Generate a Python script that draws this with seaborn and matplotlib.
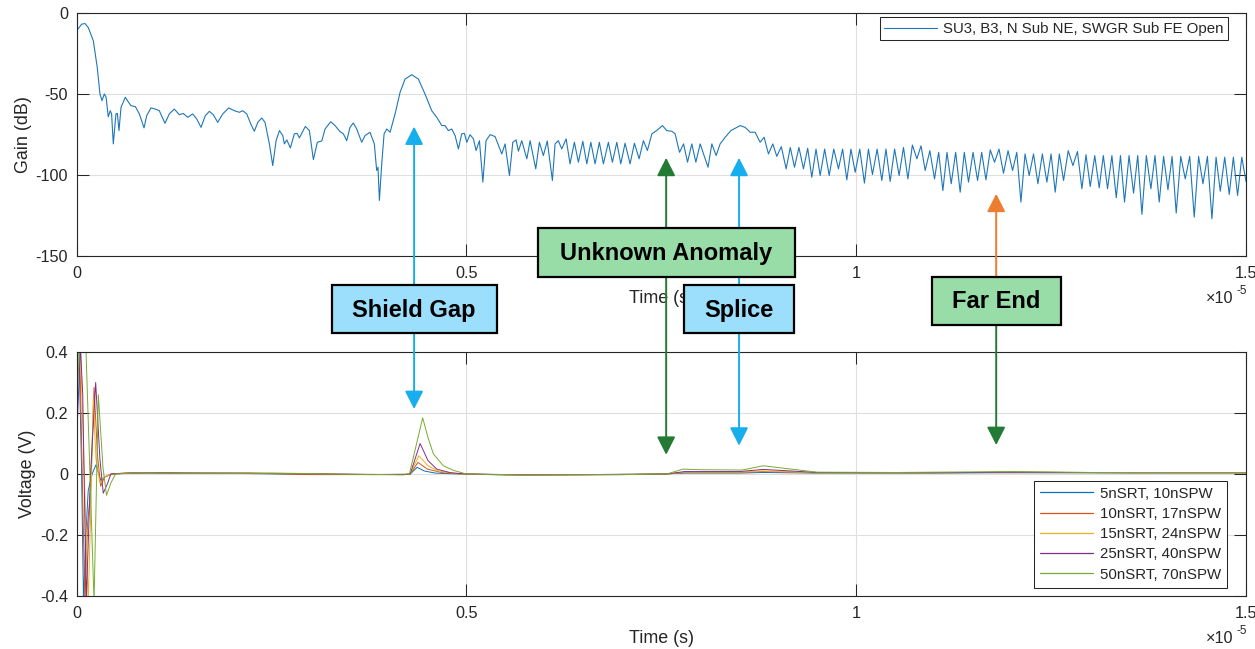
import matplotlib
matplotlib.use("Agg")
import matplotlib.pyplot as plt
from matplotlib.patches import Rectangle, ArrowStyle
from matplotlib.ticker import FuncFormatter
import pandas as pd
import seaborn as sns

# ---------------------------------------------------------------- data
# Time axis values are in units of 1e-5 s.
gain_label = "SU3, B3, N Sub NE, SWGR Sub FE Open"
gain_time = [
    0.000, 0.0067, 0.0109, 0.0151, 0.0216, 0.0266, 0.0301, 0.0327, 0.0357, 0.0380,
    0.0407, 0.0433, 0.0450, 0.0472, 0.0506, 0.0524, 0.0545, 0.0571, 0.0626, 0.0669,
    0.0699, 0.0755, 0.0806, 0.0866, 0.0900, 0.0955, 0.1010, 0.1062, 0.1135, 0.1190,
    0.1255, 0.1319, 0.1370, 0.1426, 0.1490, 0.1542, 0.1597, 0.1652, 0.1704, 0.1755,
    0.1811, 0.1876, 0.1952, 0.2024, 0.2089, 0.2132, 0.2183, 0.2239, 0.2281, 0.2325,
    0.2376, 0.2418, 0.2474, 0.2517, 0.2560, 0.2603, 0.2646, 0.2666, 0.2697, 0.2743,
    0.2794, 0.2829, 0.2859, 0.2935, 0.2987, 0.3038, 0.3089, 0.3146, 0.3188, 0.3261,
    0.3316, 0.3380, 0.3423, 0.3466, 0.3508, 0.3550, 0.3594, 0.3658, 0.3700, 0.3764,
    0.3820, 0.3850, 0.3867, 0.3885, 0.3915, 0.3945, 0.3980, 0.4022, 0.4086, 0.4150,
    0.4214, 0.4300, 0.4385, 0.4470, 0.4556, 0.4621, 0.4685, 0.4727, 0.4770, 0.4813,
    0.4856, 0.4898, 0.4941, 0.4975, 0.5006, 0.5048, 0.5091, 0.5125, 0.5168, 0.5212,
    0.5253, 0.5305, 0.5369, 0.5455, 0.5497, 0.5553, 0.5596, 0.5638, 0.5668, 0.5711,
    0.5776, 0.5818, 0.5890, 0.5937, 0.5988, 0.6038, 0.6104, 0.6138, 0.6180, 0.6224,
    0.6280, 0.6330, 0.6386, 0.6437, 0.6494, 0.6545, 0.6597, 0.6651, 0.6706, 0.6758,
    0.6822, 0.6873, 0.6930, 0.6981, 0.7036, 0.7100, 0.7156, 0.7216, 0.7271, 0.7322,
    0.7380, 0.7440, 0.7516, 0.7570, 0.7636, 0.7678, 0.7734, 0.7786, 0.7837, 0.7892,
    0.7944, 0.7999, 0.8100, 0.8149, 0.8204, 0.8255, 0.8320, 0.8393, 0.8512, 0.8576,
    0.8640, 0.8704, 0.8768, 0.8819, 0.8875, 0.8931, 0.8982, 0.9040, 0.9102, 0.9155,
    0.9209, 0.9266, 0.9324, 0.9378, 0.9431, 0.9485, 0.9538, 0.9596, 0.9654, 0.9713,
    0.9773, 0.9826, 0.9880, 0.9933, 0.9987, 1.0046, 1.0106, 1.0157, 1.0209, 1.0269,
    1.0329, 1.0382, 1.0436, 1.0493, 1.0551, 1.0607, 1.0663, 1.0721, 1.0779, 1.0832,
    1.0885, 1.0945, 1.1005, 1.1058, 1.1112, 1.1165, 1.1219, 1.1276, 1.1334, 1.1387,
    1.1441, 1.1499, 1.1557, 1.1610, 1.1664, 1.1720, 1.1775, 1.1832, 1.1890, 1.1948,
    1.2006, 1.2060, 1.2113, 1.2166, 1.2219, 1.2275, 1.2331, 1.2388, 1.2446, 1.2500,
    1.2553, 1.2606, 1.2660, 1.2720, 1.2780, 1.2838, 1.2895, 1.2948, 1.3002, 1.3060,
    1.3117, 1.3170, 1.3224, 1.3280, 1.3336, 1.3390, 1.3442, 1.3500, 1.3558, 1.3611,
    1.3665, 1.3722, 1.3780, 1.3833, 1.3887, 1.3943, 1.3999, 1.4052, 1.4105, 1.4163,
    1.4221, 1.4278, 1.4336, 1.4392, 1.4448, 1.4505, 1.4563, 1.4616, 1.4670, 1.4727,
    1.4785, 1.4838, 1.4892, 1.4946, 1.5000,
]
gain_db = [
    -11.0, -6.9, -6.5, -9.0, -17.2, -33.6, -50.0, -54.1, -50.0, -52.0,
    -64.0, -60.3, -62.3, -80.8, -62.3, -62.0, -72.6, -58.2, -52.0, -55.2,
    -57.2, -57.8, -62.3, -70.9, -63.4, -58.6, -59.3, -60.3, -68.1, -62.3,
    -59.3, -62.8, -62.0, -64.4, -62.3, -65.4, -70.6, -63.4, -60.7, -62.8,
    -67.5, -62.3, -58.6, -60.3, -61.3, -60.3, -62.3, -68.9, -73.0, -67.5,
    -64.8, -67.5, -80.8, -94.2, -78.8, -72.6, -75.7, -80.8, -78.3, -83.3,
    -74.6, -74.3, -77.1, -70.0, -72.6, -90.5, -79.8, -79.0, -71.6, -67.1,
    -69.5, -73.2, -74.6, -78.8, -70.6, -67.9, -71.6, -79.8, -75.7, -73.6,
    -80.8, -97.2, -95.2, -115.7, -93.1, -74.6, -71.6, -73.6, -62.3, -49.0,
    -40.8, -38.1, -40.8, -50.0, -60.3, -64.4, -69.5, -69.5, -72.6, -71.6,
    -75.7, -83.9, -74.6, -74.3, -79.8, -75.1, -77.7, -84.9, -78.8, -104.4,
    -78.8, -75.1, -76.3, -87.0, -80.8, -100.3, -79.8, -78.3, -85.3, -78.8,
    -90.0, -78.8, -96.2, -79.8, -88.0, -79.0, -103.4, -80.8, -78.8, -83.9,
    -77.7, -93.1, -79.8, -92.1, -79.2, -93.1, -79.8, -93.1, -79.8, -93.1,
    -79.8, -92.1, -79.8, -93.1, -80.4, -93.1, -80.4, -90.0, -78.8, -84.9,
    -74.6, -72.6, -69.5, -72.6, -73.0, -74.6, -86.0, -80.8, -92.1, -80.8,
    -92.1, -80.8, -95.2, -80.8, -88.0, -80.8, -76.7, -72.6, -69.5, -70.6,
    -73.6, -73.6, -79.8, -76.7, -87.0, -80.8, -88.5, -82.5, -96.2, -83.0,
    -95.2, -83.0, -96.2, -83.5, -101.4, -84.0, -100.3, -84.0, -100.3, -84.0,
    -96.2, -84.0, -103.0, -84.0, -98.3, -84.0, -105.0, -84.0, -99.7, -84.0,
    -103.4, -84.0, -104.0, -84.0, -100.3, -83.0, -102.4, -81.5, -90.0, -82.0,
    -97.2, -85.0, -102.4, -86.0, -109.6, -86.0, -105.4, -86.0, -110.6, -86.0,
    -104.4, -86.0, -103.4, -86.0, -103.0, -84.5, -92.1, -84.0, -98.9, -85.0,
    -97.2, -86.0, -116.7, -87.0, -100.3, -87.0, -105.4, -87.0, -104.4, -87.0,
    -110.6, -87.0, -103.4, -85.0, -94.2, -85.5, -108.5, -87.5, -107.1, -88.0,
    -107.9, -88.0, -108.5, -88.0, -114.0, -88.0, -116.7, -88.0, -111.2, -88.0,
    -124.3, -88.0, -108.5, -88.0, -116.7, -88.5, -109.1, -88.5, -123.5, -88.5,
    -102.4, -88.5, -126.0, -88.5, -105.4, -88.5, -127.0, -89.0, -110.0, -89.0,
    -112.0, -89.0, -112.6, -89.0, -104.0,
]

pulse_labels = ["5nSRT, 10nSPW", "10nSRT, 17nSPW", "15nSRT, 24nSPW",
                "25nSRT, 40nSPW", "50nSRT, 70nSPW"]

t_5ns = [0.0, 0.003, 0.0064, 0.009, 0.012, 0.015, 0.020, 0.025, 0.031, 0.036, 0.045,
         0.060, 0.085, 0.120, 0.200, 0.300, 0.420, 0.428, 0.437, 0.446, 0.460, 0.490,
         0.550, 0.650, 0.750, 0.780, 0.850, 0.880, 0.950, 1.050, 1.180, 1.300, 1.500]
v_5ns = [0.42, 0.42, 0.03, -0.42, -0.20, -0.055, 0.0, 0.03, -0.02, -0.01, 0.0,
         0.002, 0.004, 0.002, 0.002, -0.001, -0.002, 0.0, 0.022, 0.010, 0.003, 0.0,
         -0.003, -0.002, 0.0, 0.003, 0.003, 0.005, 0.003, 0.003, 0.004, 0.004, 0.004]

t_10ns = [0.0, 0.004, 0.0107, 0.014, 0.0182, 0.0225, 0.027, 0.031, 0.036, 0.045,
          0.060, 0.090, 0.140, 0.220, 0.300, 0.420, 0.428, 0.438, 0.450, 0.470, 0.500,
          0.560, 0.660, 0.757, 0.780, 0.850, 0.880, 0.950, 1.050, 1.200, 1.350, 1.500]
v_10ns = [0.42, 0.42, -0.42, -0.17, -0.05, 0.284, 0.06, -0.04, -0.01, 0.0,
          0.003, 0.005, 0.002, 0.003, -0.002, -0.002, 0.0, 0.038, 0.016, 0.004, 0.0,
          -0.003, -0.002, 0.0, 0.005, 0.005, 0.008, 0.004, 0.004, 0.005, 0.004, 0.004]

t_15ns = [0.0, 0.005, 0.015, 0.018, 0.0215, 0.025, 0.030, 0.035, 0.045,
          0.070, 0.100, 0.160, 0.250, 0.350, 0.420, 0.428, 0.439, 0.4508, 0.464, 0.490,
          0.560, 0.680, 0.757, 0.780, 0.850, 0.880, 0.950, 1.080, 1.200, 1.400, 1.500]
v_15ns = [0.42, 0.42, -0.42, -0.15, 0.25, 0.05, -0.03, -0.01, 0.0,
          0.003, 0.004, 0.002, 0.003, -0.001, -0.002, 0.0, 0.060, 0.027, 0.010, 0.0,
          -0.003, -0.002, 0.0, 0.006, 0.006, 0.010, 0.004, 0.004, 0.006, 0.004, 0.004]

t_25ns = [0.0, 0.005, 0.008, 0.0125, 0.018, 0.0246, 0.030, 0.0343, 0.040, 0.044,
          0.070, 0.110, 0.180, 0.260, 0.360, 0.420, 0.428, 0.4407, 0.4508, 0.4621,
          0.480, 0.500, 0.580, 0.700, 0.757, 0.780, 0.850, 0.881, 0.950, 1.100,
          1.200, 1.350, 1.500]
v_25ns = [0.10, 0.42, 0.26, -0.42, 0.0, 0.30, 0.05, -0.063, -0.03, 0.0,
          0.003, 0.004, 0.003, 0.002, -0.001, -0.002, 0.0, 0.100, 0.044, 0.016,
          0.004, 0.0, -0.003, -0.002, 0.0, 0.008, 0.008, 0.015, 0.005, 0.004,
          0.006, 0.004, 0.004]

t_50ns = [0.0, 0.004, 0.012, 0.0225, 0.028, 0.034, 0.0385, 0.044, 0.050,
          0.080, 0.120, 0.200, 0.280, 0.380, 0.427, 0.444, 0.4508, 0.4577, 0.4705,
          0.4834, 0.500, 0.580, 0.700, 0.757, 0.778, 0.800, 0.854, 0.881, 0.910,
          0.950, 1.050, 1.200, 1.300, 1.500]
v_50ns = [0.20, 0.42, 0.42, -0.42, 0.26, 0.02, -0.07, -0.03, 0.0,
          0.004, 0.003, 0.002, 0.002, -0.002, 0.0, 0.184, 0.120, 0.066, 0.027,
          0.012, 0.0, -0.003, -0.002, 0.0, 0.016, 0.014, 0.013, 0.027, 0.018,
          0.006, 0.005, 0.008, 0.005, 0.005]

time_ticks = [0, 0.5, 1, 1.5]
gain_ticks = [-150, -100, -50, 0]
volt_ticks = [-0.4, -0.2, 0, 0.2, 0.4]

# event markers: label, time (1e-5 s), arrow tip on gain plot (dB), arrow tip on pulse plot (V)
event_labels = ["Shield Gap", "Unknown Anomaly", "Splice", "Far End"]
event_times = [0.433, 0.7563, 0.8498, 1.1796]
event_tip_db = [-70.1, -89.4, -89.4, -111.6]
event_tip_v = [0.213, 0.063, 0.093, 0.095]

# ---------------------------------------------------------------- style
sns.set_style("white")
plt.rcParams.update({
    "font.family": ["Liberation Sans", "DejaVu Sans"],
    "axes.unicode_minus": False,
})

INK = "#262626"
GRID = "#DFDFDF"
ML_COLORS = ["#0072BD", "#D95319", "#EDB120", "#7E2F8E", "#77AC30"]
BOX_BLUE, BOX_GREEN = "#9BDFFC", "#98DDA8"
ARROW_BLUE, ARROW_GREEN, ARROW_ORANGE = "#16AEEC", "#237A35", "#ED7D31"

W, H = 1255, 649
fig = plt.figure(figsize=(W / 100, H / 100), dpi=100)
ax_top = fig.add_axes([76.5 / W, (H - 256) / H, 1169.5 / W, 243 / H])
ax_bot = fig.add_axes([76.5 / W, (H - 596) / H, 1169.5 / W, 244 / H])

# ---------------------------------------------------------------- gain plot
sns.lineplot(x=gain_time, y=gain_db, ax=ax_top, color="#1F77B8", lw=0.8,
             label=gain_label, estimator=None, sort=False)

# ---------------------------------------------------------------- pulse plot
series = [(t_5ns, v_5ns), (t_10ns, v_10ns), (t_15ns, v_15ns),
          (t_25ns, v_25ns), (t_50ns, v_50ns)]
frames = [pd.DataFrame({"t": ts, "v": vs, "series": name})
          for name, (ts, vs) in zip(pulse_labels, series)]
pulses = pd.concat(frames, ignore_index=True)
sns.lineplot(data=pulses, x="t", y="v", hue="series", hue_order=pulse_labels,
             palette=ML_COLORS, lw=0.7, estimator=None, sort=False, ax=ax_bot)

fmt = FuncFormatter(lambda v, p: f"{v:g}")


def style_axes(ax, ylim, yticks, ylabel):
    ax.set_xlim(0, 1.5)
    ax.set_ylim(*ylim)
    ax.set_xticks(time_ticks)
    ax.set_yticks(yticks)
    ax.xaxis.set_major_formatter(fmt)
    ax.yaxis.set_major_formatter(fmt)
    ax.grid(True, color=GRID, lw=0.8)
    ax.set_axisbelow(True)
    for s in ax.spines.values():
        s.set_visible(True)
        s.set_color(INK)
        s.set_linewidth(0.8)
    ax.tick_params(direction="in", length=8.4, width=0.75, color=INK,
                   labelcolor=INK, labelsize=11.7,
                   bottom=True, left=True, top=True, right=True)
    ax.tick_params(axis="x", pad=7.5)
    ax.tick_params(axis="y", pad=6)
    ax.set_xlabel("Time (s)", fontsize=12.9, color=INK, labelpad=6)
    ax.set_ylabel(ylabel, fontsize=12.9, color=INK, labelpad=3)
    # exponent of the time axis, drawn MATLAB style with a plain hyphen
    ax.annotate("\u00d710", xy=(1, 0), xycoords="axes fraction",
                xytext=(-13, -42.5), textcoords="offset pixels",
                ha="right", va="center", fontsize=11.7, color=INK)
    ax.annotate("-5", xy=(1, 0), xycoords="axes fraction",
                xytext=(1, -35), textcoords="offset pixels",
                ha="right", va="center", fontsize=8.5, color=INK)


style_axes(ax_top, (-150, 0), gain_ticks, "Gain (dB)")
style_axes(ax_bot, (-0.4, 0.4), volt_ticks, "Voltage (V)")

leg_kw = dict(frameon=True, fancybox=False, edgecolor=INK, framealpha=1,
              fontsize=10.8, handlelength=3.5, handletextpad=0.45,
              borderaxespad=0)
leg1 = ax_top.legend(loc="upper right", bbox_to_anchor=(0.9849, 0.9823),
                     borderpad=0.3, **leg_kw)
leg2 = ax_bot.legend(loc="lower right", bbox_to_anchor=(0.9835, 0.034),
                     borderpad=0.4, labelspacing=0.42, **leg_kw)
for leg in (leg1, leg2):
    leg.get_frame().set_linewidth(0.75)
    for txt in leg.get_texts():
        txt.set_color(INK)
for line in leg2.get_lines():
    line.set_linewidth(0.9)

# ---------------------------------------------------------------- event callouts
ov = fig.add_axes([0, 0, 1, 1], zorder=10)
ov.set_xlim(0, W)
ov.set_ylim(H, 0)
ov.axis("off")

# box centre y, box width, box height, fill, up-arrow colour, down-arrow colour
callout_layout = [
    (309.3, 165, 48, BOX_BLUE, ARROW_BLUE, ARROW_BLUE),
    (252.5, 257, 48.5, BOX_GREEN, ARROW_GREEN, ARROW_GREEN),
    (309.3, 110, 48, BOX_BLUE, ARROW_BLUE, ARROW_BLUE),
    (301.0, 129, 48, BOX_GREEN, ARROW_ORANGE, ARROW_GREEN),
]
head = ArrowStyle("-|>", head_length=0.55, head_width=0.28)

for label, t, tip_db, tip_v, (cy, bw, bh, fill, c_up, c_dn) in zip(
        event_labels, event_times, event_tip_db, event_tip_v, callout_layout):
    cx = ax_top.transData.transform((t, 0))[0]
    top_edge, bot_edge = cy - bh / 2, cy + bh / 2
    ov.annotate("", xy=(t, tip_db), xycoords=ax_top.transData,
                xytext=(cx, top_edge), textcoords=ov.transData,
                annotation_clip=False,
                arrowprops=dict(arrowstyle=head, color=c_up, lw=1.4,
                                shrinkA=0, shrinkB=0, mutation_scale=20))
    ov.annotate("", xy=(t, tip_v), xycoords=ax_bot.transData,
                xytext=(cx, bot_edge), textcoords=ov.transData,
                annotation_clip=False,
                arrowprops=dict(arrowstyle=head, color=c_dn, lw=1.4,
                                shrinkA=0, shrinkB=0, mutation_scale=20))
    ov.add_patch(Rectangle((cx - bw / 2, top_edge), bw, bh, facecolor=fill,
                           edgecolor="black", lw=1.6, zorder=5))
    ov.text(cx, cy + 1, label, ha="center", va="center", fontsize=17,
            fontweight="bold", color="black", zorder=6)

fig.savefig("out.png", dpi=100)
